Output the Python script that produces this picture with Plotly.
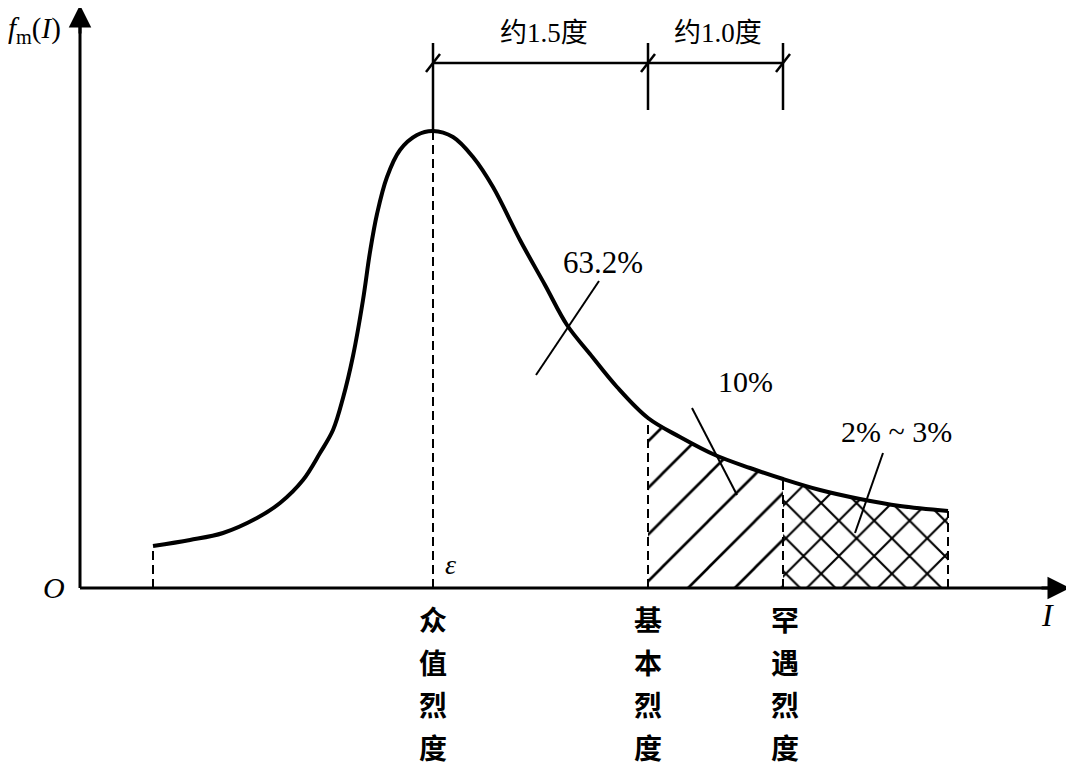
import plotly.graph_objects as go

# Curve: intensity position and density height (picture units)
curve_i = [73, 110, 143, 177, 200, 223, 240, 253, 263, 273, 283, 290, 297, 307, 320,
           337, 353, 373, 393, 413, 440, 465, 487, 510, 537, 568, 600, 635, 670, 703,
           740, 780, 820, 868]
curve_f = [42, 48, 55, 70, 85, 108, 135, 158, 190, 232, 288, 336, 374, 411, 438,
           453, 457, 451, 431, 401, 348, 303, 263, 234, 201, 170, 151, 133, 120, 109,
           98, 89, 82, 77]

start_i = 73
mode_i = 353      # 众值烈度
basic_i = 568     # 基本烈度
rare_i = 703      # 罕遇烈度
end_i = 868

span_labels = ["约1.5度", "约1.0度"]
pct_labels = ["63.2%", "10%", "2% ~ 3%"]
tick_labels = ["众值烈度", "基本烈度", "罕遇烈度"]

FONT = "Liberation Serif, Times New Roman, Noto Sans CJK SC"
CJK = "Noto Sans CJK SC"


def f_at(i):
    return curve_f[curve_i.index(i)]


def segment(lo, hi):
    xs = [x for x in curve_i if lo <= x <= hi]
    ys = [curve_f[curve_i.index(x)] for x in xs]
    return xs, ys


fig = go.Figure()

# hatched band 基本 -> 罕遇
xs, ys = segment(basic_i, rare_i)
fig.add_scatter(x=xs, y=ys, mode="lines", line=dict(width=0, shape="spline"),
                fill="tozeroy", fillcolor="white",
                fillpattern=dict(shape="/", fgcolor="black", bgcolor="white",
                                 fgopacity=1, size=33, solidity=0.08))
# cross hatched band beyond 罕遇
xs, ys = segment(rare_i, end_i)
fig.add_scatter(x=xs, y=ys, mode="lines", line=dict(width=0, shape="spline"),
                fill="tozeroy", fillcolor="white",
                fillpattern=dict(shape="x", fgcolor="black", bgcolor="white",
                                 fgopacity=1, size=25, solidity=0.16))

# density curve
fig.add_scatter(x=curve_i, y=curve_f, mode="lines",
                line=dict(color="black", width=4, shape="spline"))

shapes = []
# dashed drop lines
for x in [start_i, mode_i, basic_i, rare_i, end_i]:
    shapes.append(dict(type="line", x0=x, x1=x, y0=0, y1=f_at(x),
                       line=dict(color="black", width=2, dash="9px,5px")))

# dimension line on top
dim_y = 525
shapes.append(dict(type="line", x0=mode_i, x1=rare_i, y0=dim_y, y1=dim_y,
                   line=dict(color="black", width=2.5)))
for x, y_low in [(mode_i, f_at(mode_i)), (basic_i, 478), (rare_i, 478)]:
    shapes.append(dict(type="line", x0=x, x1=x, y0=y_low, y1=545,
                       line=dict(color="black", width=2.5)))
    shapes.append(dict(type="line", x0=x - 7, x1=x + 7, y0=dim_y - 9, y1=dim_y + 9,
                       line=dict(color="black", width=2.5)))

# leader lines
for x0, y0, x1, y1 in [(456, 213, 519, 307), (612, 180, 657, 93), (775, 55, 803, 135)]:
    shapes.append(dict(type="line", x0=x0, x1=x1, y0=y0, y1=y1,
                       line=dict(color="black", width=2)))

# axes
shapes.append(dict(type="line", x0=0, x1=975, y0=0, y1=0,
                   line=dict(color="black", width=3)))
shapes.append(dict(type="line", x0=0, x1=0, y0=0, y1=565,
                   line=dict(color="black", width=3)))

ann = []
ann.append(dict(x=990, y=0, ax=960, ay=0, axref="x", ayref="y", text="",
                showarrow=True, arrowhead=2, arrowsize=1.5, arrowwidth=3,
                arrowcolor="black", standoff=0))
ann.append(dict(x=0, y=583, ax=0, ay=553, axref="x", ayref="y", text="",
                showarrow=True, arrowhead=2, arrowsize=1.5, arrowwidth=3,
                arrowcolor="black", standoff=0))


def txt(x, y, s, size, italic=False, family=FONT, weight="normal"):
    if italic:
        s = "<i>" + s + "</i>"
    ann.append(dict(x=x, y=y, text=s, showarrow=False, xanchor="center",
                    yanchor="middle",
                    font=dict(family=family, size=size, color="black", weight=weight)))


txt(-46, 558, "<i>f</i><sub>m</sub>(<i>I</i>)", 29)
txt(-26, 1, "O", 30, italic=True)
txt(967, -27, "I", 32, italic=True)
txt(370, 24, "ε", 28, italic=True)

txt((mode_i + basic_i) / 2 + 3, 555, span_labels[0], 27)
txt((basic_i + rare_i) / 2 + 2, 555, span_labels[1], 27)

txt(523, 326, pct_labels[0], 31)
txt(665, 207, pct_labels[1], 30)
txt(816, 157, pct_labels[2], 30)

for x, label in zip([mode_i, basic_i, rare_i + 2], tick_labels):
    for k, ch in enumerate(label):
        txt(x, -31 - 42.5 * k, ch, 28, family=CJK, weight="bold")

# the page body adds an 8px margin, so the figure is 8px smaller and the
# ranges start 8 units later to keep everything where the reference has it
fig.update_layout(
    width=1066, height=758, margin=dict(l=0, r=0, t=0, b=0),
    paper_bgcolor="white", plot_bgcolor="white", showlegend=False,
    xaxis=dict(range=[-72, 994], visible=False, fixedrange=True),
    yaxis=dict(range=[-178, 580], visible=False, fixedrange=True),
    shapes=shapes, annotations=ann,
)

fig.write_html("out.html")
